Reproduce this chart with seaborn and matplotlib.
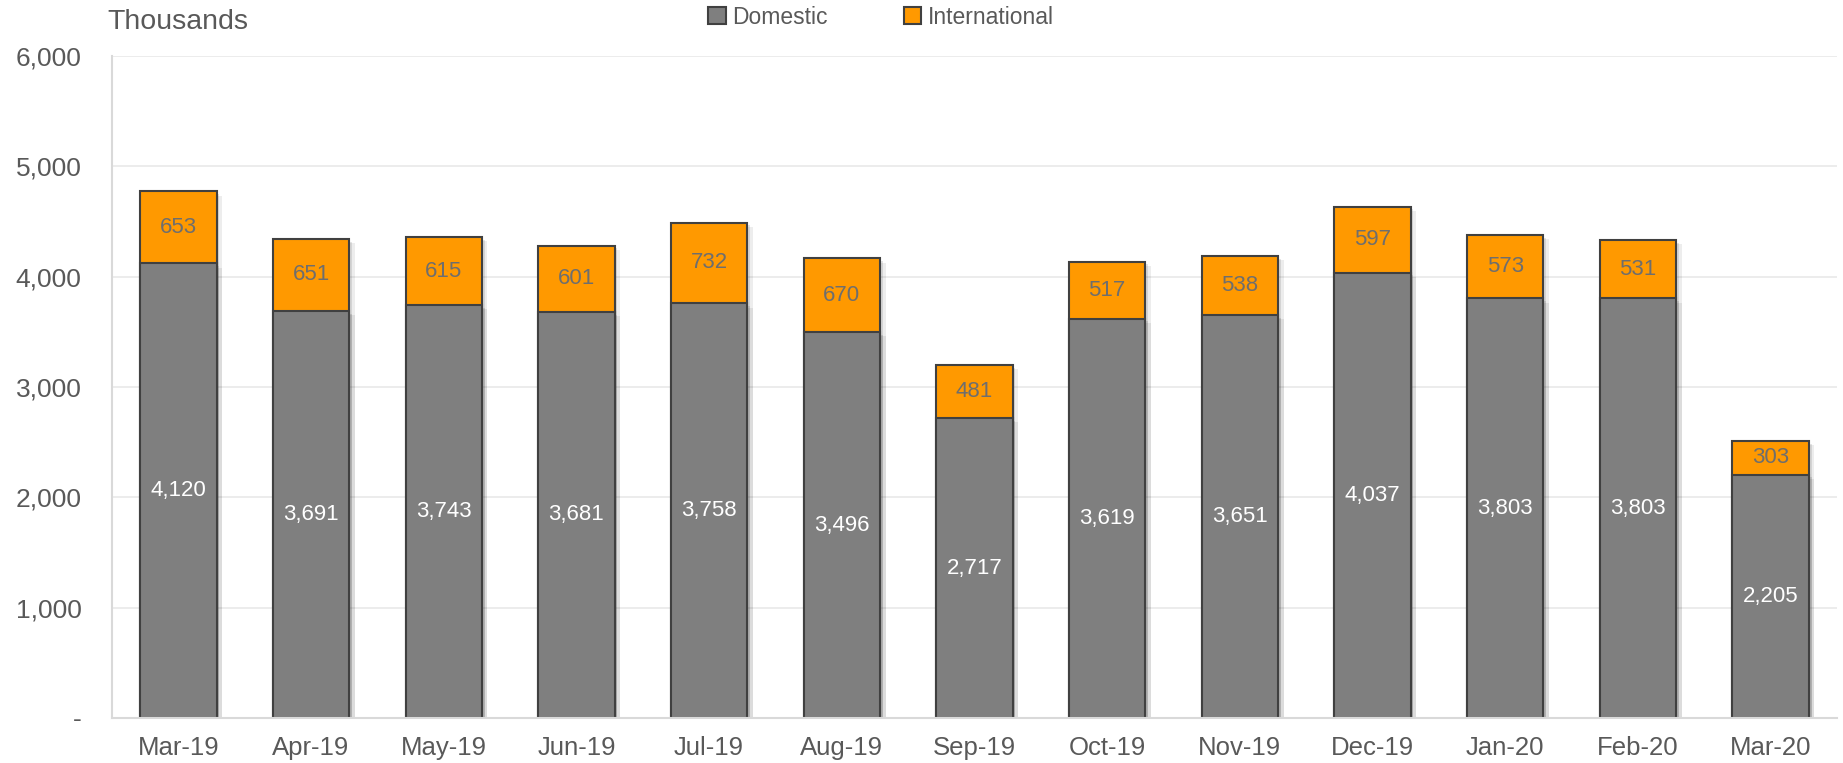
import pandas as pd
import seaborn as sns
import matplotlib.pyplot as plt
import matplotlib.patheffects as pe
from matplotlib.patches import Patch
from matplotlib.ticker import FuncFormatter

# Datos (miles de pasajeros)
months = ["Mar-19", "Apr-19", "May-19", "Jun-19", "Jul-19", "Aug-19", "Sep-19",
          "Oct-19", "Nov-19", "Dec-19", "Jan-20", "Feb-20", "Mar-20"]
domestic = [4120, 3691, 3743, 3681, 3758, 3496, 2717, 3619, 3651, 4037, 3803, 3803, 2205]
international = [653, 651, 615, 601, 732, 670, 481, 517, 538, 597, 573, 531, 303]

df = pd.DataFrame({"month": months, "Domestic": domestic, "International": international})
df["Total"] = df["Domestic"] + df["International"]

GREY = "#7F7F7F"
ORANGE = "#FF9900"
EDGE = "#404040"
TEXT = "#595959"

sns.set_style("white")
plt.rcParams["font.family"] = ["Liberation Sans", "DejaVu Sans"]

fig = plt.figure(figsize=(18.43, 7.63), dpi=100)
ax = fig.add_axes([0.0608, 0.059, 0.9359, 0.8676])

# sombra suave (dos capas)
shadow = [pe.SimplePatchShadow(offset=(4, -3), shadow_rgbFace="#000000", alpha=0.07),
          pe.SimplePatchShadow(offset=(2, -2), shadow_rgbFace="#000000", alpha=0.10),
          pe.Normal()]

# Barras apiladas: total naranja, doméstico gris encima
sns.barplot(data=df, x="month", y="Total", color=ORANGE, saturation=1, width=0.575,
            edgecolor=EDGE, linewidth=1.5, ax=ax)
sns.barplot(data=df, x="month", y="Domestic", color=GREY, saturation=1, width=0.575,
            edgecolor=EDGE, linewidth=1.5, ax=ax)

for p in ax.patches:
    p.set_path_effects(shadow)

# Etiquetas de datos
for i, (d, n) in enumerate(zip(domestic, international)):
    ax.text(i, d / 2, f"{d:,}", ha="center", va="center", color="white", fontsize=16)
    ax.text(i, d + n / 2, f"{n:,}", ha="center", va="center", color="#6E6E6E", fontsize=16)

ax.set_ylim(0, 6000)
ax.set_xlim(-0.5, len(months) - 0.5)
ax.set_yticks(range(0, 6001, 1000))
ax.yaxis.set_major_formatter(FuncFormatter(lambda v, _: "-" if v == 0 else f"{v:,.0f}"))
ax.grid(axis="y", color="#EBEBEB", linewidth=1.3)
ax.set_axisbelow(True)

ax.tick_params(axis="y", labelsize=19, labelcolor=TEXT, length=0, pad=22)
ax.tick_params(axis="x", labelsize=18.5, labelcolor=TEXT, length=0, pad=13)
ax.set_xlabel("")
ax.set_ylabel("")

for s in ["top", "right"]:
    ax.spines[s].set_visible(False)
ax.spines["left"].set_color("#D9D9D9")
ax.spines["left"].set_linewidth(1.5)
ax.spines["bottom"].set_color("#D9D9D9")
ax.spines["bottom"].set_linewidth(1.5)

fig.text(107 / 1843, 1 - 22 / 763, "Thousands", fontsize=20.5, color=TEXT, ha="left", va="center")

handles = [Patch(facecolor=GREY, edgecolor=EDGE, linewidth=1.5, label="Domestic"),
           Patch(facecolor=ORANGE, edgecolor=EDGE, linewidth=1.5, label="International")]
fig.legend(handles=handles, loc="center", bbox_to_anchor=(0.478, 1 - 17 / 763), ncol=2,
           frameon=False, fontsize=16.5, labelcolor=TEXT, handlelength=0.75, handleheight=0.75,
           handletextpad=0.3, columnspacing=3.3)

fig.savefig("out.png", dpi=100)
